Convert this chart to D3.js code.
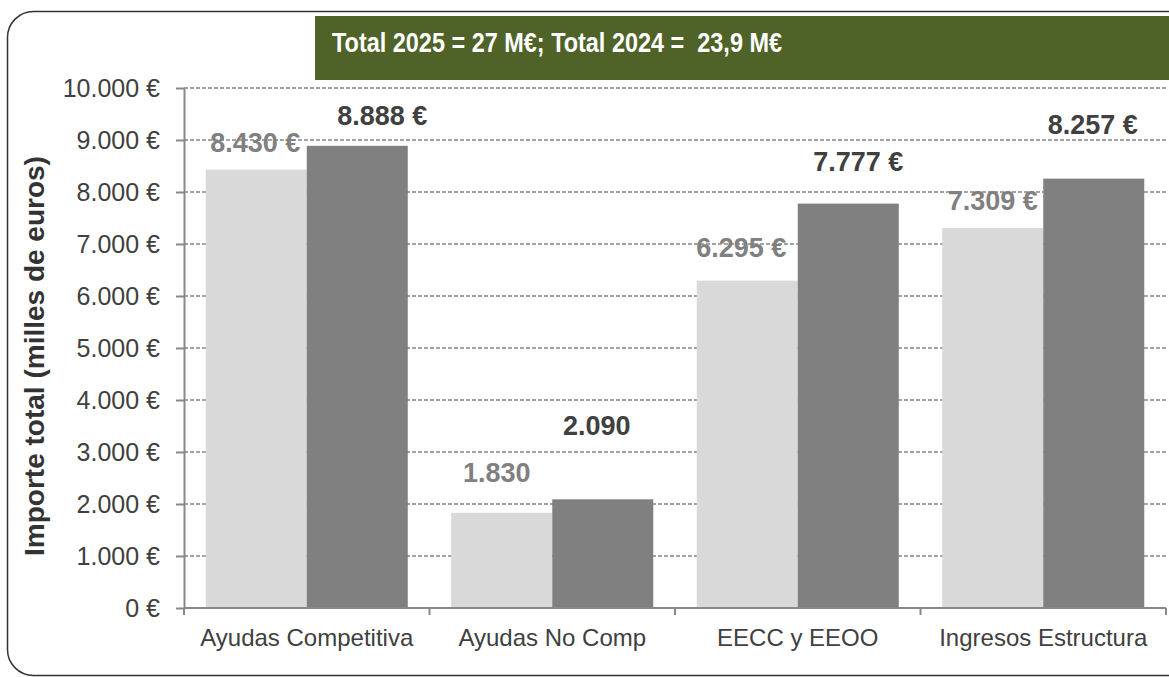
<!DOCTYPE html>
<html>
<head>
<meta charset="utf-8">
<script src="https://cdn.jsdelivr.net/npm/d3@7"></script>
<style>
  body { margin: 0; background: #fff; }
  svg { display: block; font-family: Arial, "Liberation Sans", sans-serif; }
</style>
</head>
<body>
<div id="chart"></div>
<script>
'use strict';

/* Data */

var categories = ['Ayudas Competitiva', 'Ayudas No Comp', 'EECC y EEOO', 'Ingresos Estructura']
var series = ['2024', '2025']
var values2024 = [8430, 1830, 6295, 7309]
var values2025 = [8888, 2090, 7777, 8257]
var labels2024 = ['8.430 €', '1.830', '6.295 €', '7.309 €']
var labels2025 = ['8.888 €', '2.090', '7.777 €', '8.257 €']
var yTicks = [0, 1000, 2000, 3000, 4000, 5000, 6000, 7000, 8000, 9000, 10000]
var yTickLabels = ['0 €', '1.000 €', '2.000 €', '3.000 €', '4.000 €', '5.000 €',
  '6.000 €', '7.000 €', '8.000 €', '9.000 €', '10.000 €']
var titleText = 'Total 2025 = 27 M€; Total 2024 =  23,9 M€'
var yTitleText = 'Importe total (milles de euros)'

/* Layout */

var W = 1169, H = 677
var margin = {top: 88, left: 184}
var width = 982, height = 520

// hand placed data labels in the original (dx from bar centre, dy from bar top)
var nudge2024 = [[-1, -18], [-5, -31], [-6, -24], [0, -18]]
var nudge2025 = [[25, -21], [-6, -64], [10, -33], [-1, -45]]

var colors = {'2024': '#d9d9d9', '2025': '#808080'}
var labelColors = {'2024': '#808080', '2025': '#404040'}

var svg = d3.select('#chart').append('svg')
  .attr('width', W)
  .attr('height', H)

// outer frame, rounded, running off the right edge
svg.append('rect')
  .attr('x', 7.5).attr('y', 11.5)
  .attr('width', 1185).attr('height', 664)
  .attr('rx', 26).attr('ry', 26)
  .attr('fill', '#fff')
  .attr('stroke', '#333')
  .attr('stroke-width', 1.5)

var g = svg.append('g')
  .attr('transform', 'translate(' + margin.left + ',' + margin.top + ')')

var x0 = d3.scaleBand()
  .domain(categories)
  .range([0, width])

var x1 = d3.scaleBand()
  .domain(series)
  .range([0, x0.bandwidth()])
  .paddingOuter(0.215)

var y = d3.scaleLinear()
  .domain([0, 10000])
  .range([height, 0])

// Gridlines
g.append('g')
  .attr('class', 'grid')
  .selectAll('line')
  .data(yTicks.filter(function(d){ return d > 0 }))
  .enter().append('line')
    .attr('x1', 0)
    .attr('x2', width)
    .attr('y1', function(d){ return y(d) })
    .attr('y2', function(d){ return y(d) })
    .attr('stroke', '#858585')
    .attr('stroke-width', 1.3)
    .attr('stroke-dasharray', '4,2')

// Bars
var rows = categories.map(function(c, i){
  return [
    {cat: c, key: '2024', value: values2024[i], label: labels2024[i], nudge: nudge2024[i]},
    {cat: c, key: '2025', value: values2025[i], label: labels2025[i], nudge: nudge2025[i]}
  ]
})

var groups = g.selectAll('.group')
  .data(rows)
  .enter().append('g')
    .attr('class', 'group')
    .attr('transform', function(d){ return 'translate(' + x0(d[0].cat) + ',0)' })

groups.selectAll('rect')
  .data(function(d){ return d })
  .enter().append('rect')
    .attr('x', function(d){ return x1(d.key) })
    .attr('y', function(d){ return y(d.value) })
    .attr('width', x1.bandwidth())
    .attr('height', function(d){ return height - y(d.value) })
    .attr('fill', function(d){ return colors[d.key] })

// Axes
var yAxis = d3.axisLeft(y)
  .tickValues(yTicks)
  .tickFormat(function(d, i){ return yTickLabels[i] })
  .tickSize(8)
  .tickSizeOuter(0)
  .tickPadding(16)

var ya = g.append('g')
  .attr('class', 'axis axis--y')
  .call(yAxis)

ya.selectAll('.tick text')
  .attr('fill', '#404040')
  .style('font-size', '25px')

var xa = g.append('g')
  .attr('class', 'axis axis--x')
  .attr('transform', 'translate(0,' + height + ')')

xa.append('line')
  .attr('x1', 0).attr('x2', width)
  .attr('stroke', '#888')
  .attr('stroke-width', 2)

// category ticks sit on band edges
xa.selectAll('.edge')
  .data(categories.map(function(c){ return x0(c) }).concat([width]))
  .enter().append('line')
    .attr('class', 'edge')
    .attr('x1', function(d){ return d })
    .attr('x2', function(d){ return d })
    .attr('y1', 0).attr('y2', 7)
    .attr('stroke', '#888')
    .attr('stroke-width', 2)

xa.selectAll('.cat')
  .data(categories)
  .enter().append('text')
    .attr('class', 'cat')
    .attr('x', function(d){ return x0(d) + x0.bandwidth() / 2 })
    .attr('y', 38)
    .attr('text-anchor', 'middle')
    .attr('fill', '#404040')
    .style('font-size', '24px')
    .text(function(d){ return d })

ya.select('.domain').attr('stroke', '#888').attr('stroke-width', 2)
ya.selectAll('.tick line').attr('stroke', '#888').attr('stroke-width', 2)

// Data labels
groups.selectAll('.value')
  .data(function(d){ return d })
  .enter().append('text')
    .attr('class', 'value')
    .attr('x', function(d){ return x1(d.key) + x1.bandwidth() / 2 + d.nudge[0] })
    .attr('y', function(d){ return y(d.value) + d.nudge[1] })
    .attr('text-anchor', 'middle')
    .attr('fill', function(d){ return labelColors[d.key] })
    .style('font-size', '27px')
    .style('font-weight', 'bold')
    .text(function(d){ return d.label })

// Y title
svg.append('text')
  .attr('transform', 'rotate(-90)')
  .attr('x', -356)
  .attr('y', 44)
  .attr('text-anchor', 'middle')
  .attr('fill', '#333')
  .style('font-size', '28px')
  .style('font-weight', 'bold')
  .text(yTitleText)

// Title box
svg.append('rect')
  .attr('x', 315).attr('y', 16)
  .attr('width', 870).attr('height', 64)
  .attr('fill', '#4f6228')

svg.append('text')
  .attr('x', 332)
  .attr('y', 52)
  .attr('fill', '#fff')
  .attr('textLength', 450)
  .attr('lengthAdjust', 'spacingAndGlyphs')
  .style('white-space', 'pre')
  .style('font-size', '27px')
  .style('font-weight', 'bold')
  .text(titleText)
</script>
</body>
</html>
